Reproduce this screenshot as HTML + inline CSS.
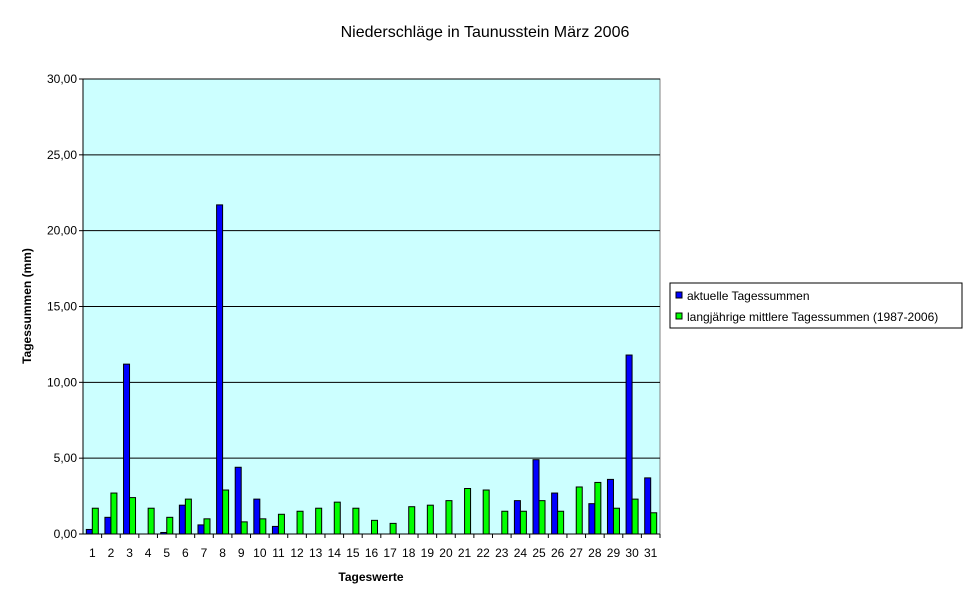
<!DOCTYPE html>
<html><head><meta charset="utf-8"><style>
body{margin:0;background:#fff;font-family:"Liberation Sans",Arial,sans-serif;}
svg text{font-family:"Liberation Sans",Arial,sans-serif;}
</style></head><body>
<svg id="c" width="970" height="604">
<text x="485" y="37" font-size="16" text-anchor="middle">Niederschläge in Taunusstein  März  2006</text>
<rect x="83" y="79" width="577" height="455" fill="#ccffff" stroke="#808080"/>
<g id="grid"></g><g id="bars"></g><g id="axes"></g>
<text transform="translate(31,306) rotate(-90)" font-size="12" font-weight="bold" text-anchor="middle">Tagessummen (mm)</text>
<text x="371" y="581" font-size="12" font-weight="bold" text-anchor="middle">Tageswerte</text>
<g>
<rect x="670" y="283" width="292" height="45" fill="#fff" stroke="#000"/>
<rect x="676" y="292" width="6" height="6" fill="#0000ff" stroke="#000"/>
<text x="687" y="300" font-size="12">aktuelle Tagessummen</text>
<rect x="676" y="313" width="6" height="6" fill="#00ff00" stroke="#000"/>
<text x="687" y="321" font-size="12">langjährige mittlere Tagessummen (1987-2006)</text>
</g>
</svg>
<script>
const days=[1,2,3,4,5,6,7,8,9,10,11,12,13,14,15,16,17,18,19,20,21,22,23,24,25,26,27,28,29,30,31];
const actual=[0.3,1.1,11.2,0,0.1,1.9,0.6,21.7,4.4,2.3,0.5,0,0,0,0,0,0,0,0,0,0,0,0,2.2,4.9,2.7,0,2.0,3.6,11.8,3.7];
const average=[1.7,2.7,2.4,1.7,1.1,2.3,1.0,2.9,0.8,1.0,1.3,1.5,1.7,2.1,1.7,0.9,0.7,1.8,1.9,2.2,3.0,2.9,1.5,1.5,2.2,1.5,3.1,3.4,1.7,2.3,1.4];
const yTicks=[0,5,10,15,20,25,30];
const yLabels=["0,00","5,00","10,00","15,00","20,00","25,00","30,00"];
const NS="http://www.w3.org/2000/svg";
const X0=83,X1=660,Y0=534,Y1=79,YMAX=30;
const bw=(X1-X0)/days.length;
const y=v=>Y0-(v/YMAX)*(Y0-Y1);
const xc=i=>X0+bw*(i+0.5);
function mk(t,a,p){const e=document.createElementNS(NS,t);for(const k in a)e.setAttribute(k,a[k]);p.appendChild(e);return e;}
const g=document.getElementById('grid'),b=document.getElementById('bars'),ax=document.getElementById('axes');
yTicks.forEach((t,i)=>{
 if(t>0){const l=mk('line',{x1:X0,x2:X1,y1:y(t),y2:y(t),stroke:'#000'},g);
 
 }
 mk('line',{x1:X0-4,x2:X0,y1:y(t),y2:y(t),stroke:'#000'},ax);
 const tx=mk('text',{x:X0-6,y:y(t)+4,'font-size':12,'text-anchor':'end'},ax);
 tx.textContent=yLabels[i];
 
 
});
mk('line',{x1:X0,x2:X0,y1:Y1,y2:Y0,stroke:'#000'},ax);
mk('line',{x1:X0,x2:X1,y1:Y0,y2:Y0,stroke:'#000'},ax);
days.forEach((d,i)=>{
 const c=xc(i);
 if(actual[i]>0){const r=mk('rect',{x:c-6,y:y(actual[i]),width:6,height:Y0-y(actual[i]),fill:'#0000ff',stroke:'#000','stroke-width':1},b);
 
 }
 const r2=mk('rect',{x:c,y:y(average[i]),width:6,height:Y0-y(average[i]),fill:'#00ff00',stroke:'#000','stroke-width':1},b);
 
 
 mk('line',{x1:X0+bw*(i+1),x2:X0+bw*(i+1),y1:Y0,y2:Y0+4,stroke:'#000'},ax);
 const tx=mk('text',{x:c,y:557,'font-size':12,'text-anchor':'middle'},ax);
 tx.textContent=d;
 
 
});
</script>
</body></html>
